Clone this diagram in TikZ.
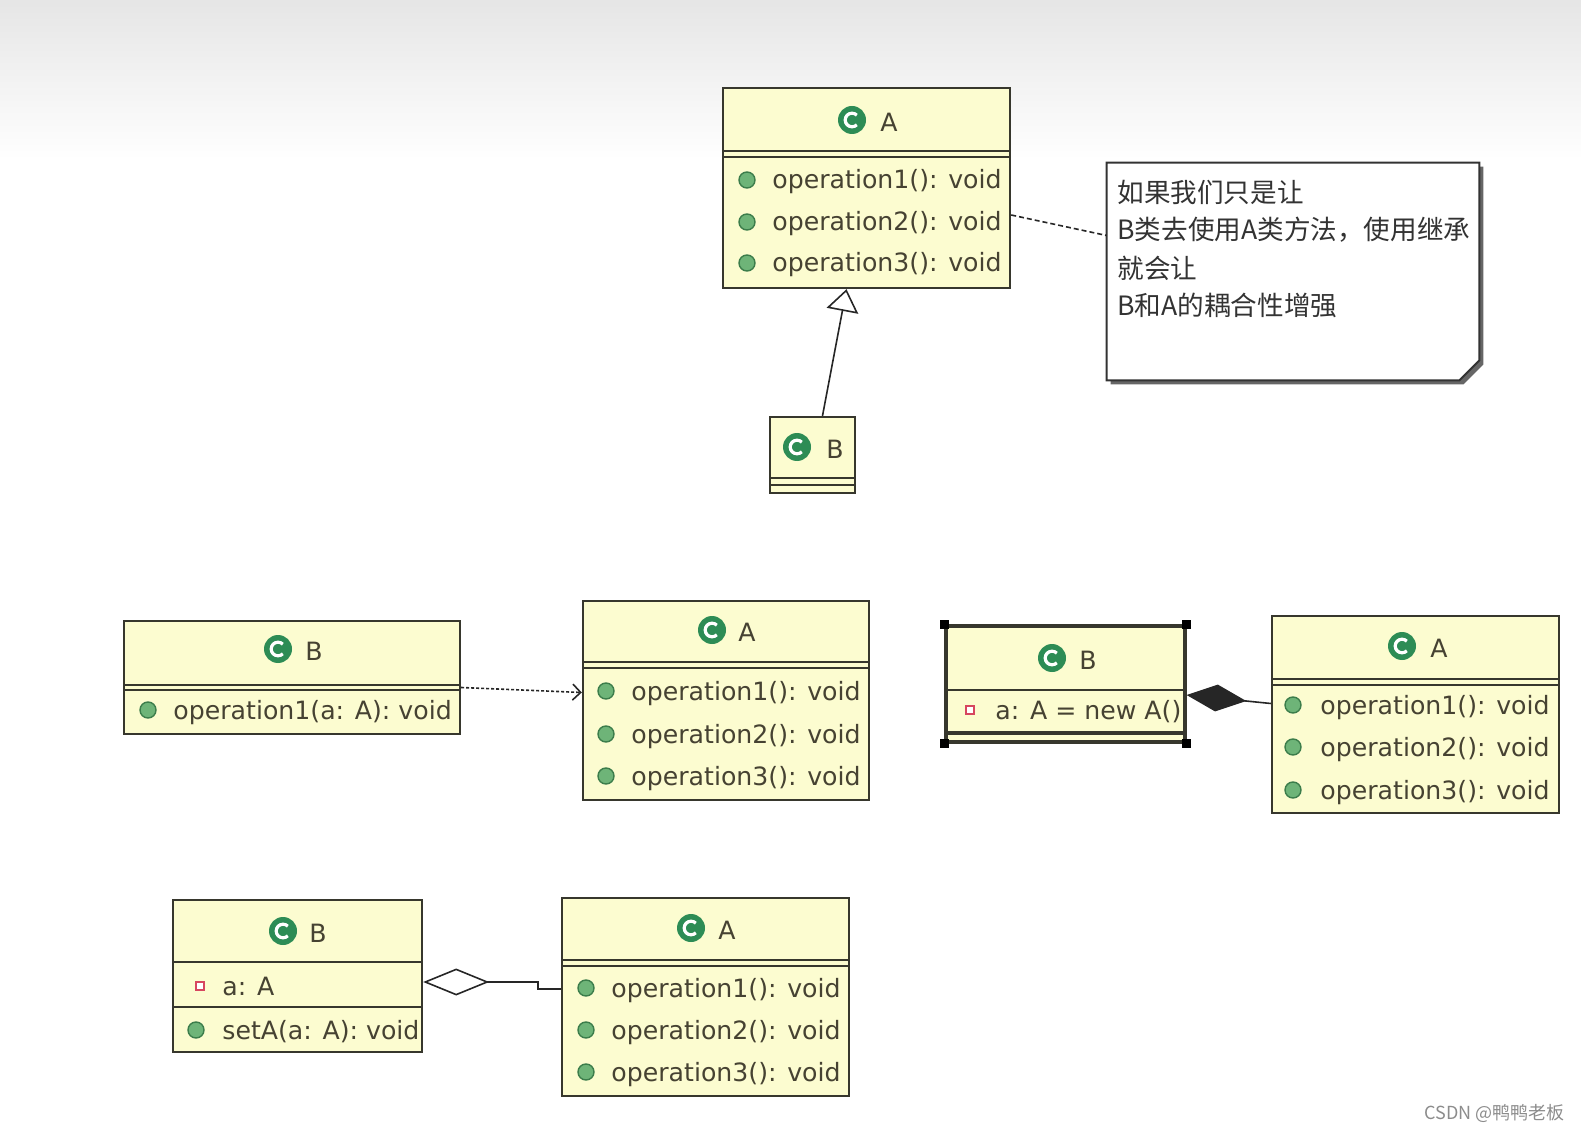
\documentclass[tikz,border=0pt]{standalone}
\usepackage{fontspec}
\setmainfont{DejaVu Sans}
\newfontfamily\cjk{Noto Sans CJK SC}
\usetikzlibrary{arrows.meta,fit,calc}

\definecolor{boxfill}{RGB}{252,252,208}
\definecolor{boxline}{RGB}{55,55,45}
\definecolor{txt}{RGB}{70,66,50}
\definecolor{icongreen}{RGB}{45,140,85}
\definecolor{dotfill}{RGB}{110,180,120}
\definecolor{dotline}{RGB}{60,125,75}
\definecolor{attrred}{RGB}{215,70,95}

\begin{document}
\begin{tikzpicture}[
    x=0.5pt, y=-0.5pt,
    classbox/.style={draw=boxline, fill=boxfill, line width=1.2pt, inner sep=0pt},
    cmprule/.style={draw=boxline, line width=1.2pt},
    clsname/.style={anchor=west, inner sep=0pt, text=txt, font=\fontsize{12.6}{15}\selectfont},
    optext/.style={anchor=west, inner sep=0pt, text=txt, text height=10pt, text depth=1pt, font=\fontsize{12.6}{15}\selectfont},
    mdot/.style={circle, fill=dotfill, draw=dotline, line width=0.7pt, minimum size=8pt, inner sep=0pt},
    attrmark/.style={rectangle, fill=white, draw=attrred, line width=0.8pt, minimum size=4pt, inner sep=0pt},
    selmark/.style={rectangle, fill=black, minimum size=4.5pt, inner sep=0pt},
    link/.style={draw=black!85, line width=0.8pt},
    notetext/.style={anchor=west, inner sep=0pt, text=black!80, font=\cjk\fontsize{13.3}{16}\selectfont},
    cicon/.pic={
        \fill[icongreen] (0,0) circle (7pt);
        \draw[white, line width=1.6pt] (45:3.4pt) arc (45:315:3.4pt);
    }
]
    \useasboundingbox (0,0) rectangle (1581,1134);
    % grey band at the top
    \shade[top color=black!10, bottom color=white] (0,0) rectangle (1581,160);

    % inheritance: A on top, B below
    \node[classbox, fit={(723,88) (1010,288)}] (At) {};
    \draw[cmprule] (723,151) -- (1010,151);
    \draw[cmprule] (723,157) -- (1010,157);
    \pic at (852,120) {cicon};
    \node[clsname] (At-name) at (880,122) {A};
    \foreach \i/\y in {1/180, 2/222, 3/263} {
        \node[mdot] (At-dot\i) at (747,\y) {};
        \node[optext] (At-op\i) at (772,\y) {operation\i(): void};
    }

    \node[classbox, fit={(770,417) (855,493)}] (Bt) {};
    \draw[cmprule] (770,478) -- (855,478);
    \draw[cmprule] (770,485) -- (855,485);
    \pic at (797,447) {cicon};
    \node[clsname] (Bt-name) at (826,449) {B};

    \draw[link, -{Triangle[open, length=11pt, width=16pt]}] ($(Bt.north)+(10,0)$) -- ($(At.south)+(-20,0)$);

    % note
    \node[fit={(1107,163) (1479,380)}, inner sep=0pt] (note) {};
    \fill[black!60] ($(note.north west)+(4,4)$) -- ($(note.north east)+(4,4)$) -- ($(note.south east)+(4,-16)$) -- ($(note.south east)+(-16,4)$) -- ($(note.south west)+(4,4)$) -- cycle;
    \draw[fill=white, draw=black!80, line width=1pt] (note.north west) -- (note.north east) -- ($(note.south east)+(0,-20)$) -- ($(note.south east)+(-20,0)$) -- (note.south west) -- cycle;
    \node[notetext] (note-l1) at (1117,192) {如果我们只是让};
    \node[notetext] (note-l2) at (1117,230) {B类去使用A类方法，使用继承};
    \node[notetext] (note-l3) at (1117,268) {就会让};
    \node[notetext] (note-l4) at (1117,305) {B和A的耦合性增强};
    \draw[link, dash pattern=on 2.5pt off 1.5pt] ($(At.east)+(0,27)$) -- ($(note.west)+(0,-36)$);

    % dependency: B uses A as a parameter
    \node[classbox, fit={(124,621) (460,734)}] (Bd) {};
    \draw[cmprule] (124,685) -- (460,685);
    \draw[cmprule] (124,690) -- (460,690);
    \pic at (278,649) {cicon};
    \node[clsname] (Bd-name) at (305,651) {B};
    \node[mdot] (Bd-dot1) at (148,710) {};
    \node[optext] (Bd-op1) at (173,710) {operation1(a: A): void};

    \node[classbox, fit={(583,601) (869,800)}] (Ad) {};
    \draw[cmprule] (583,662) -- (869,662);
    \draw[cmprule] (583,668) -- (869,668);
    \pic at (712,630) {cicon};
    \node[clsname] (Ad-name) at (738,632) {A};
    \foreach \i/\y in {1/691, 2/734, 3/776} {
        \node[mdot] (Ad-dot\i) at (606,\y) {};
        \node[optext] (Ad-op\i) at (631,\y) {operation\i(): void};
    }

    \draw[link, dash pattern=on 1.5pt off 1pt, -{Straight Barb[length=4pt, width=8pt]}] ($(Bd.east)+(0,10)$) -- ($(Ad.west)+(0,-8)$);

    % composition: B creates its own A
    \node[classbox, line width=1.6pt, fit={(946,626) (1185,742)}] (Bc) {};
    \draw[cmprule] (946,690) -- (1185,690);
    \draw[cmprule, line width=1.6pt] (946,733) -- (1185,733);
    \pic at (1052,658) {cicon};
    \node[clsname] (Bc-name) at (1079,660) {B};
    \node[attrmark] (Bc-mark1) at (970,710) {};
    \node[optext] (Bc-attr1) at (995,710) {a: A = new A()};
    \node[selmark] (Bc-h1) at (Bc.north west) {};
    \node[selmark] (Bc-h2) at (Bc.north east) {};
    \node[selmark] (Bc-h3) at (Bc.south west) {};
    \node[selmark] (Bc-h4) at (Bc.south east) {};

    \node[classbox, fit={(1272,616) (1559,813)}] (Ac) {};
    \draw[cmprule] (1272,679) -- (1559,679);
    \draw[cmprule] (1272,685) -- (1559,685);
    \pic at (1402,646) {cicon};
    \node[clsname] (Ac-name) at (1430,648) {A};
    \foreach \i/\y in {1/705, 2/747, 3/790} {
        \node[mdot] (Ac-dot\i) at (1293,\y) {};
        \node[optext] (Ac-op\i) at (1320,\y) {operation\i(): void};
    }

    \draw[link, {Diamond[length=30pt, width=13.5pt]}-] ($(Bc.east)+(0,11)$) -- ($(Ac.west)+(0,-11)$);

    % aggregation: A is set from outside
    \node[classbox, fit={(173,900) (422,1052)}] (Bg) {};
    \draw[cmprule] (173,962) -- (422,962);
    \draw[cmprule] (173,1007) -- (422,1007);
    \pic at (283,931) {cicon};
    \node[clsname] (Bg-name) at (309,933) {B};
    \node[attrmark] (Bg-mark1) at (200,986) {};
    \node[optext] (Bg-attr1) at (222,986) {a: A};
    \node[mdot] (Bg-dot1) at (196,1030) {};
    \node[optext] (Bg-op1) at (222,1030) {setA(a: A): void};

    \node[classbox, fit={(562,898) (849,1096)}] (Ag) {};
    \draw[cmprule] (562,960) -- (849,960);
    \draw[cmprule] (562,966) -- (849,966);
    \pic at (691,928) {cicon};
    \node[clsname] (Ag-name) at (718,930) {A};
    \foreach \i/\y in {1/988, 2/1030, 3/1072} {
        \node[mdot] (Ag-dot\i) at (586,\y) {};
        \node[optext] (Ag-op\i) at (611,\y) {operation\i(): void};
    }

    \draw[link, {Diamond[open, length=33pt, width=13.5pt]}-] ($(Bg.east)+(0,6)$) -- ++(115,0) |- ($(Ag.west)+(0,-8)$);

    % watermark
    \node[anchor=east, inner sep=0pt, text=black!45, font=\cjk\fontsize{9}{11}\selectfont] (wm) at (1565,1113) {CSDN @鸭鸭老板};
\end{tikzpicture}
\end{document}
